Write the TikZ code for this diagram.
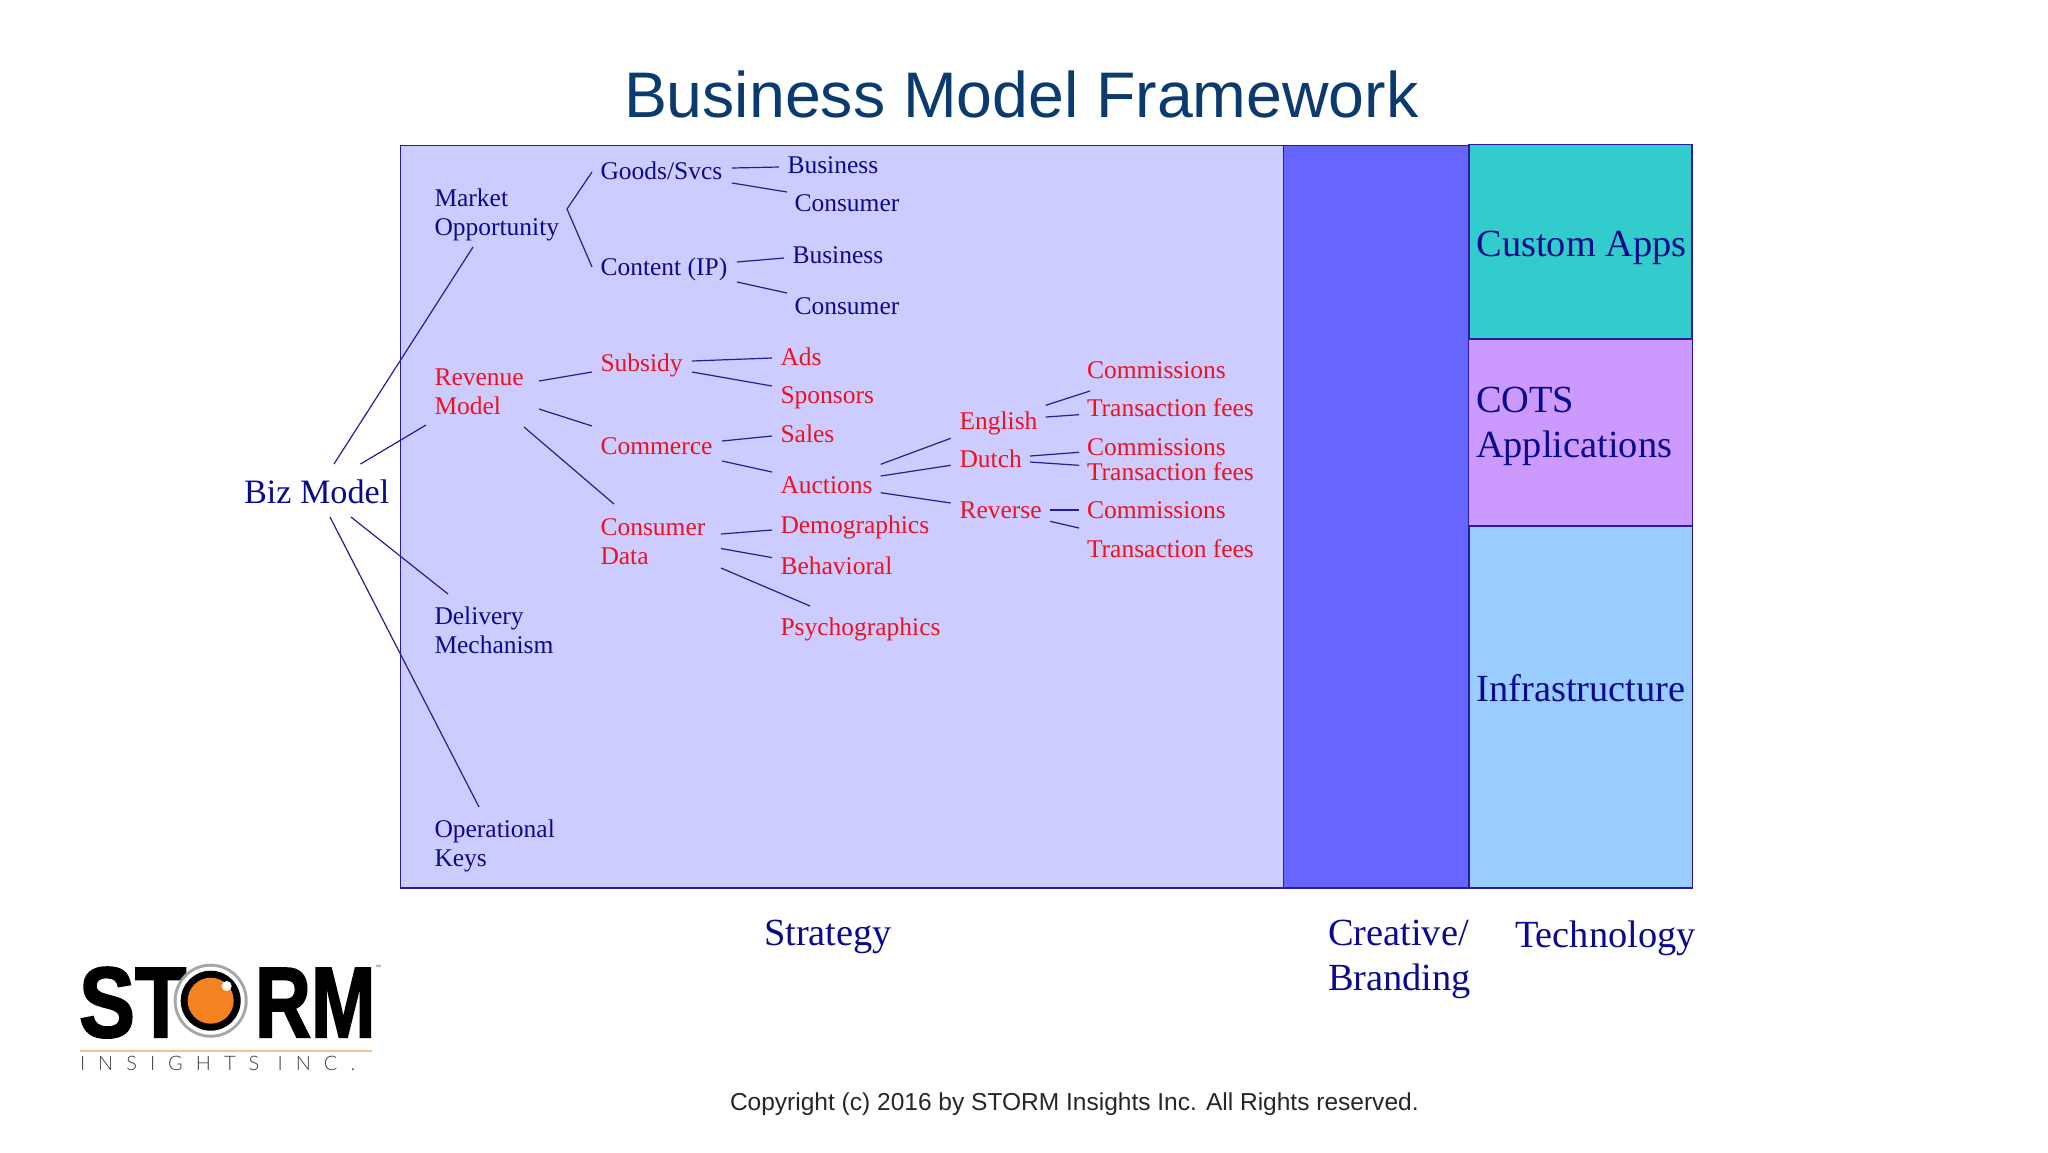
\documentclass[tikz,border=0pt]{standalone}
\usepackage{fontspec}
\setmainfont{Liberation Serif}
\newfontfamily\sansf{Liberation Sans}
\newfontfamily\logof[FakeBold=2]{Liberation Sans Bold}
\newfontfamily\logosub[LetterSpace=65]{Lato Light}
\definecolor{inkblue}{HTML}{0A0A8C}
\definecolor{inkred}{HTML}{EE1122}
\definecolor{linkblue}{HTML}{1F1F96}
\definecolor{edgeblue}{HTML}{2A1AA0}
\definecolor{titleblue}{HTML}{0B3A6E}
\definecolor{stratfill}{HTML}{CCCCFF}
\definecolor{creatfill}{HTML}{6666FF}
\definecolor{customfill}{HTML}{33CCCC}
\definecolor{cotsfill}{HTML}{CC99FF}
\definecolor{infrafill}{HTML}{99CCFF}
\definecolor{logoorange}{HTML}{F58220}
\tikzset{
  txt/.style={anchor=base west,inner sep=0pt,outer sep=0pt,align=left},
  blu/.style={txt,text=inkblue,font=\fontsize{12.75}{14.5}\selectfont},
  rd/.style={txt,text=inkred,font=\fontsize{12.75}{14.5}\selectfont},
  big/.style={txt,text=inkblue,font=\fontsize{19.2}{22.5}\selectfont},
  panel/.style={draw=edgeblue,line width=0.65pt},
  link/.style={draw=linkblue,line width=0.6pt},
}
\newcommand{\conn}[6]{\draw[link] ([shift={(#3,#4)}]#1.base west) -- ([shift={(#5,#6)}]#2.base west);}
\begin{document}
\begin{tikzpicture}[x=0.5pt,y=-0.5pt]
\useasboundingbox (0,0) rectangle (2048,1152);
% panels
\draw[panel,fill=stratfill] (400.5,145.5) rectangle (1283.5,888);
\draw[panel,fill=creatfill] (1283.5,145.5) rectangle (1468.5,888);
\draw[panel,fill=infrafill] (1469,526) rectangle (1692.5,888);
\draw[panel,fill=customfill] (1469,144.5) rectangle (1692,339);
\draw[panel,fill=cotsfill] (1468.5,339) rectangle (1692.5,526);
% title and captions
\node[txt,text=titleblue,font=\sansf\fontsize{32.2}{36}\selectfont] (title) at (624,117) {Business Model Framework};
\node[txt,font=\sansf\fontsize{12.26}{15}\selectfont,text=black!85] (copyright) at (730,1110) {Copyright (c) 2016 by STORM Insights Inc. All Rights reserved.};
\node[big] (strategy) at (764,945) {Strategy};
\node[big] (creative) at (1328,990) {Creative/\\Branding};
\node[big] (technology) at (1515,947) {Technology};
\node[big] (custom) at (1476.5,256) {Custom Apps};
\node[big] (cots) at (1476,457) {COTS\\Applications};
\node[big] (infra) at (1476.5,701) {Infrastructure};
% tree
\node[txt,text=inkblue,font=\fontsize{17.1}{20}\selectfont] (biz) at (244,503) {Biz Model};
\node[blu] (market) at (434.5,235) {Market\\Opportunity};
\node[rd] (revenue) at (434.5,414) {Revenue\\Model};
\node[blu] (delivery) at (434.5,653) {Delivery\\Mechanism};
\node[blu] (operational) at (434.5,866) {Operational\\Keys};
\node[blu] (goods) at (600.5,179) {Goods/Svcs};
\node[blu] (content) at (600.5,275) {Content (IP)};
\node[rd] (subsidy) at (600.5,371) {Subsidy};
\node[rd] (commerce) at (600.5,454) {Commerce};
\node[rd] (consdata) at (600.5,564) {Consumer\\Data};
\node[blu] (busa) at (787.5,173) {Business};
\node[blu] (cona) at (794.5,211) {Consumer};
\node[blu] (busb) at (792.5,263) {Business};
\node[blu] (conb) at (794.5,314) {Consumer};
\node[rd] (ads) at (780.5,365) {Ads};
\node[rd] (sponsors) at (780.5,403) {Sponsors};
\node[rd] (sales) at (780.5,442) {Sales};
\node[rd] (auctions) at (780.5,493) {Auctions};
\node[rd] (demo) at (780.5,533) {Demographics};
\node[rd] (behav) at (780.5,574) {Behavioral};
\node[rd] (psycho) at (780.5,635) {Psychographics};
\node[rd] (english) at (959.5,429) {English};
\node[rd] (dutch) at (959.5,467) {Dutch};
\node[rd] (reverse) at (959.5,518) {Reverse};
\node[rd] (ca) at (1087,378) {Commissions};
\node[rd] (ta) at (1087,416) {Transaction fees};
\node[rd] (cb) at (1087,455) {Commissions};
\node[rd] (tb) at (1087,480) {Transaction fees};
\node[rd] (cc) at (1087,518) {Commissions};
\node[rd] (tc) at (1087,557) {Transaction fees};
% connectors
\conn{biz}{market}{90}{-39}{38.5}{12}
\conn{biz}{revenue}{116.5}{-39}{-8.5}{11}
\conn{biz}{delivery}{107}{14}{13.5}{-59}
\conn{biz}{operational}{86}{14}{44.5}{-59}
\conn{market}{goods}{132.5}{-26}{-8.5}{-7}
\conn{market}{content}{132.5}{-26}{-8.5}{-8}
\conn{goods}{busa}{131.5}{-11}{-8.5}{-6}
\conn{goods}{cona}{131.5}{4}{-7.5}{-19}
\conn{content}{busb}{136.5}{-13}{-8.5}{-5}
\conn{content}{conb}{136.5}{7}{-7.5}{-21}
\conn{revenue}{subsidy}{104.5}{-33}{-8.5}{1}
\conn{revenue}{commerce}{104.5}{-5}{-8.5}{-28}
\conn{revenue}{consdata}{89.5}{13}{13.5}{-60}
\conn{subsidy}{ads}{91.5}{-10}{-8.5}{-7}
\conn{subsidy}{sponsors}{91.5}{1}{-8.5}{-17}
\conn{commerce}{sales}{121.5}{-13}{-8.5}{-6}
\conn{commerce}{auctions}{121.5}{7}{-8.5}{-21}
\conn{consdata}{demo}{120.5}{-30}{-8.5}{-3}
\conn{consdata}{behav}{120.5}{-15.5}{-8.5}{-16.4}
\conn{consdata}{psycho}{120.5}{4}{29.5}{-29}
\conn{auctions}{english}{100.2}{-28.7}{-8.8}{9.3}
\conn{auctions}{dutch}{100.2}{-17}{-8.8}{-1.7}
\conn{auctions}{reverse}{100.2}{-0.3}{-8.8}{-15}
\conn{english}{ca}{86.2}{-23.7}{3}{13}
\conn{english}{ta}{86.2}{-12}{-8}{-1.3}
\conn{dutch}{cb}{70.5}{-11}{-8}{-2.7}
\conn{dutch}{tb}{70.5}{-5}{-8}{-14.7}
\conn{reverse}{cc}{90.5}{-8}{-8}{-8}
\conn{reverse}{tc}{90.5}{3.3}{-8}{-29}
% logo
\node[txt,transform shape,xscale=.84,text=black,font=\logof\fontsize{50}{52}\selectfont] (logost) at (79,1037) {ST};
\node[txt,transform shape,xscale=.775,text=black,font=\logof\fontsize{50}{52}\selectfont] (logorm) at (255,1037) {RM};
\node[txt,text=black!70,font=\sansf\fontsize{3}{3}\selectfont] (logotm) at (375,969) {™};
\fill[black!35] (210.7,1000.7) circle[radius=37];
\fill[white] (210.7,1000.7) circle[radius=34];
\fill[black] (210.7,1000.7) circle[radius=30];
\fill[logoorange] (210.7,1000.7) circle[radius=23];
\fill[white] (226.7,986) circle[radius=5];
\draw[draw=logoorange!50,line width=1pt] (80,1050.7) -- (372,1050.7);
\node[txt,text=black!75,font=\logosub\fontsize{10}{12}\selectfont] (logosub) at (80,1070) {INSIGHTS INC.};
\end{tikzpicture}
\end{document}
